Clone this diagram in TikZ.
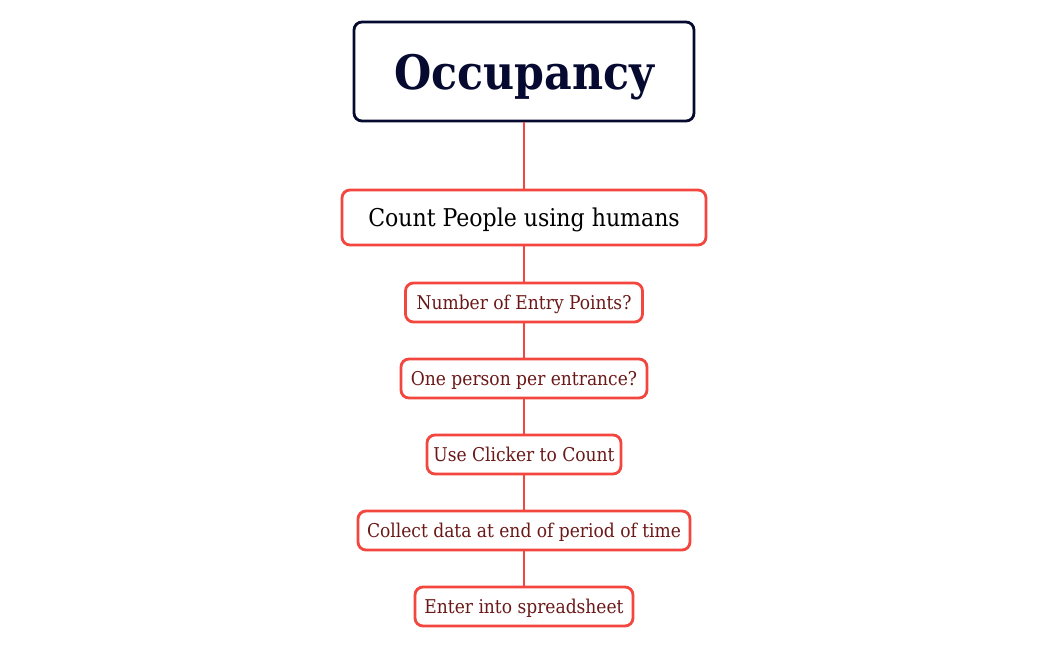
\documentclass[tikz,border=0pt]{standalone}
\usepackage{fontspec}
\setmainfont{DejaVu Serif Condensed}
\usepackage{tikz}
\definecolor{navyink}{HTML}{070A30}
\definecolor{boxred}{HTML}{F2463F}
\definecolor{stepink}{HTML}{6B1818}
\begin{document}
\begin{tikzpicture}[x=1pt, y=-1pt,
    titlebox/.style={draw=navyink, line width=2.8pt, rounded corners=8pt, fill=white,
        text=navyink, font=\fontsize{47.5}{52}\selectfont\bfseries, text depth=0pt,
        minimum width=340pt, minimum height=99pt, inner sep=0pt},
    mainbox/.style={draw=boxred, line width=2.8pt, rounded corners=8pt, fill=white,
        text=black, font=\fontsize{24.5}{28}\selectfont, text depth=0pt,
        minimum width=364pt, minimum height=55pt, inner sep=0pt},
    stepbox/.style={draw=boxred, line width=2.8pt, rounded corners=8pt, fill=white,
        text=stepink, font=\fontsize{19}{22}\selectfont, text depth=0pt,
        minimum height=39pt, inner sep=0pt},
    link/.style={draw=boxred, line width=2.5pt}]
    \useasboundingbox (0,0) rectangle (1048,650);
    \node [titlebox] (occ) at (524,71.5) {Occupancy};
    \node [mainbox] (count) at (524,217.5) {Count People using humans};
    \node [stepbox, minimum width=237pt] (entry) at (524,302.5) {Number of Entry Points?};
    \node [stepbox, minimum width=246pt] (person) at (524,378.5) {One person per entrance?};
    \node [stepbox, minimum width=194pt] (clicker) at (524,454.5) {Use Clicker to Count};
    \node [stepbox, minimum width=332pt] (collect) at (524,530.5) {Collect data at end of period of time};
    \node [stepbox, minimum width=218pt] (sheet) at (524,606.5) {Enter into spreadsheet};
    \draw [link] (occ) -- (count);
    \draw [link] (count) -- (entry);
    \draw [link] (entry) -- (person);
    \draw [link] (person) -- (clicker);
    \draw [link] (clicker) -- (collect);
    \draw [link] (collect) -- (sheet);
\end{tikzpicture}
\end{document}
